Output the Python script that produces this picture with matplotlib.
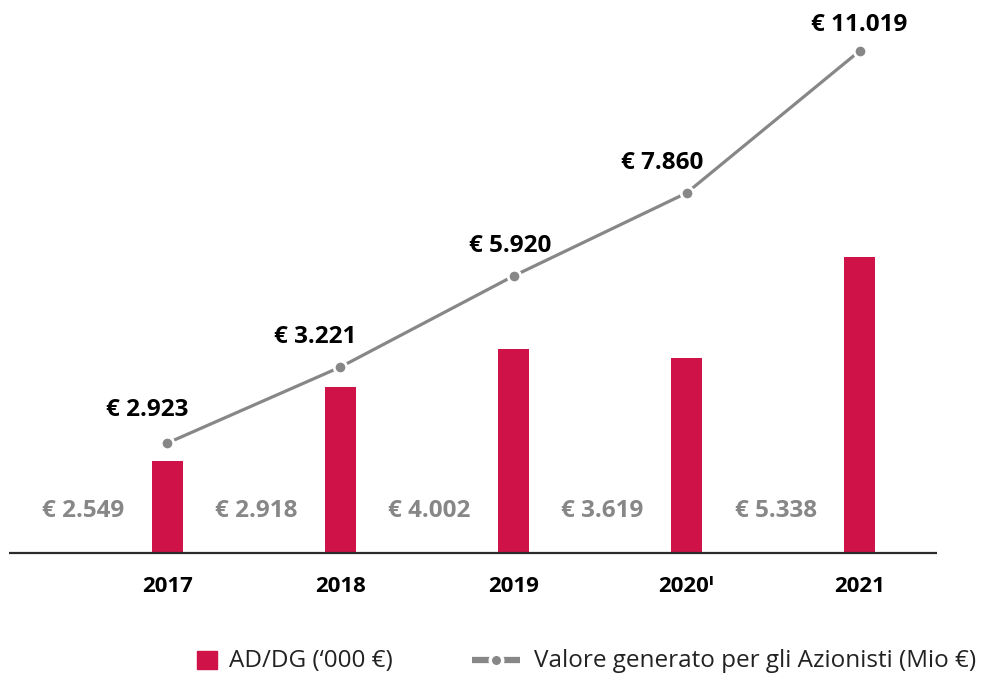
import matplotlib
matplotlib.use('Agg')
from matplotlib import pyplot as plt
from matplotlib.lines import Line2D
from matplotlib.patches import Rectangle

# data
years      = ['2017', '2018', '2019', '2020', '2021']
ad_labels  = ['€ 2.549', '€ 2.918', '€ 4.002', '€ 3.619', '€ 5.338']
ad_height  = [92, 166, 204, 195, 296]      # drawn bar heights
val_labels = ['€ 2.923', '€ 3.221', '€ 5.920', '€ 7.860', '€ 11.019']
val_height = [110, 186, 277, 360, 502]     # drawn line heights

red  = '#cf1349'
grey = '#878787'
plt.rcParams['font.family'] = ['Open Sans', 'DejaVu Sans']

W, H = 981, 673
fig = plt.figure(figsize=(W / 100, H / 100), dpi=100)
ax = fig.add_axes([0, 0, 1, 1])
ax.set_xlim(-0.968, 4.702)
ax.set_ylim(-120, 553)
ax.axis('off')

x = list(range(len(years)))
ax.bar(x, ad_height, width=0.18, color=red, zorder=2)
ax.plot(x, val_height, '-', color=grey, lw=2.3, marker='o', ms=9,
        mfc=grey, mec='white', mew=2, zorder=3)
ax.plot([-0.916, 4.448], [0, 0], color='#2b2b2b', lw=1.6, zorder=4,
        solid_capstyle='butt')

# label offsets (points) for the line values
offs = [(-14.5, 24), (-18.5, 21.5), (-2.5, 21.5), (-17.5, 21.5), (0, 18.5)]
for i in x:
    ax.annotate(val_labels[i], (i, val_height[i]), xytext=offs[i],
                textcoords='offset points', ha='center', va='center',
                fontsize=17.5, fontweight='bold', color='black')
    ax.text(i - 0.485, 42, ad_labels[i], ha='center', va='center',
            fontsize=17.5, fontweight='bold', color=grey)
    ax.text(i, -33, years[i] + ('ᴵ' if years[i] == '2020' else ''),
            ha='center', va='center', fontsize=16, fontweight='bold',
            color='black')

# legend drawn by hand
def fx(px):
    return px / W

def fy(py):
    return 1 - py / H

fig.add_artist(Rectangle((fx(197), fy(669)), 20 / W, 18 / H, color=red,
                         transform=fig.transFigure))
fig.text(fx(229), fy(661), "AD/DG (‘000 €)", ha='left', va='center',
         fontsize=17.5, color='#222222')
fig.add_artist(Line2D([fx(472), fx(520)], [fy(660), fy(660)], color=grey,
                      lw=4.5, transform=fig.transFigure,
                      solid_capstyle='butt'))
fig.add_artist(Line2D([fx(496)], [fy(660)], marker='o', ms=9, mfc=grey,
                      mec='white', mew=2.5, transform=fig.transFigure))
fig.text(fx(534), fy(661), 'Valore generato per gli Azionisti (Mio €)',
         ha='left', va='center', fontsize=17.5, color='#222222')

fig.savefig('out.png', dpi=100)
